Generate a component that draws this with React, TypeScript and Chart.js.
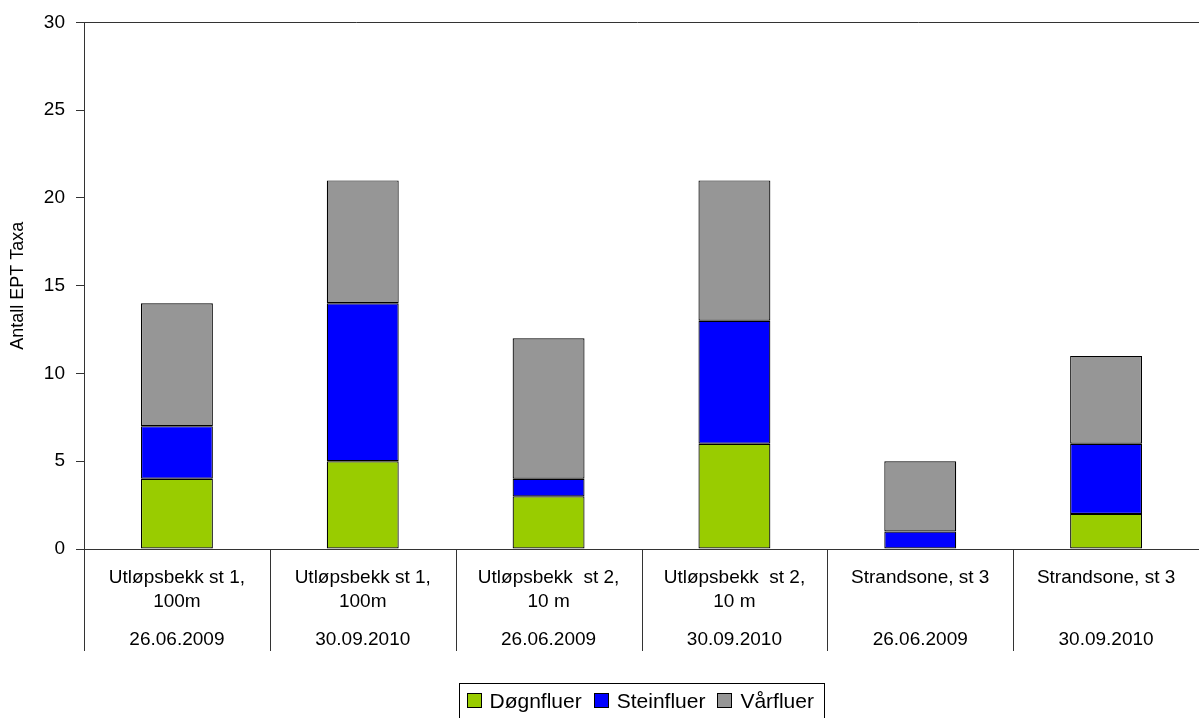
import React, { useEffect, useRef } from "react";
import { Chart, registerables } from "chart.js";
Chart.register(...registerables);

const siteLabels: string[][] = [
  ["Utløpsbekk st 1,", "100m"],
  ["Utløpsbekk st 1,", "100m"],
  ["Utløpsbekk  st 2,", "10 m"],
  ["Utløpsbekk  st 2,", "10 m"],
  ["Strandsone, st 3"],
  ["Strandsone, st 3"],
];
const dateLabels = ["26.06.2009", "30.09.2010", "26.06.2009", "30.09.2010", "26.06.2009", "30.09.2010"];
const dognfluer = [4, 5, 3, 6, 0, 2];
const steinfluer = [3, 9, 1, 7, 1, 4];
const varfluer = [7, 7, 8, 8, 4, 5];
const seriesNames = ["Døgnfluer", "Steinfluer", "Vårfluer"];
const seriesColors = ["#99CC00", "#0000FF", "#969696"];
const yMin = 0;
const yMax = 30;
const yStep = 5;
const yTitle = "Antall EPT Taxa";

const FONT = "'Liberation Sans', Arial, sans-serif";
const AXIS = "#333333";

const overlay = {
  id: "overlay",
  afterDraw(chart: any) {
    const ctx = chart.ctx as CanvasRenderingContext2D;
    const area = chart.chartArea;
    const xs = chart.scales.x;
    const n = chart.data.labels.length;
    ctx.save();
    // top border line
    ctx.strokeStyle = AXIS;
    ctx.lineWidth = 1;
    ctx.beginPath();
    ctx.moveTo(area.left - 8, Math.round(area.top) + 0.5);
    ctx.lineTo(area.right, Math.round(area.top) + 0.5);
    ctx.stroke();
    // category dividers
    const step = n > 1 ? xs.getPixelForValue(1) - xs.getPixelForValue(0) : area.width;
    ctx.beginPath();
    for (let i = 0; i <= n; i++) {
      const x = Math.round(xs.getPixelForValue(i) - step / 2) + 0.5;
      ctx.moveTo(x, area.bottom);
      ctx.lineTo(x, area.bottom + 102);
    }
    ctx.stroke();
    // labels
    ctx.fillStyle = "#000";
    ctx.font = `19px ${FONT}`;
    ctx.textAlign = "center";
    ctx.textBaseline = "middle";
    for (let i = 0; i < n; i++) {
      const cx = xs.getPixelForValue(i);
      siteLabels[i].forEach((line, j) => {
        ctx.fillText(line, cx, area.bottom + 29 + j * 24);
      });
      ctx.fillText(dateLabels[i], cx, area.bottom + 91);
    }
    // legend
    ctx.font = `21px ${FONT}`;
    const sq = 15;
    const gapSq = 8;
    const gapItem = 12;
    const ds = chart.data.datasets;
    const widths = ds.map((d: any) => ctx.measureText(d.label).width);
    const padL = 7;
    const padR = 11;
    let total = padL + padR;
    ds.forEach((_: any, i: number) => {
      total += sq + gapSq + widths[i] + (i < ds.length - 1 ? gapItem : 0);
    });
    const boxW = Math.round(total);
    const cxLeg = (area.left + area.right) / 2;
    const boxL = Math.round(cxLeg - boxW / 2) + 0.5;
    const boxT = 683.5;
    ctx.strokeStyle = "#000";
    ctx.strokeRect(boxL, boxT, boxW, 60);
    let x = boxL + padL;
    const cy = 701;
    ctx.textAlign = "left";
    ds.forEach((d: any, i: number) => {
      const sx = Math.round(x);
      ctx.fillStyle = d.backgroundColor;
      ctx.fillRect(sx, cy - 8, sq, sq);
      ctx.strokeStyle = "#000";
      ctx.strokeRect(sx + 0.5, cy - 8 + 0.5, sq - 1, sq - 1);
      x += sq + gapSq;
      ctx.fillStyle = "#000";
      ctx.fillText(d.label, x, cy + 1);
      x += widths[i] + gapItem;
    });
    ctx.restore();
  },
};

export default function App() {
  const ref = useRef<HTMLCanvasElement>(null);
  useEffect(() => {
    document.body.style.margin = "0";
    const canvas = ref.current!;
    const values = [dognfluer, steinfluer, varfluer];
    const chart = new Chart(canvas, {
      type: "bar",
      data: {
        labels: siteLabels.map((s, i) => s.join(" ") + " " + dateLabels[i]),
        datasets: seriesNames.map((name, i) => ({
          label: name,
          data: values[i],
          backgroundColor: seriesColors[i],
          borderColor: "#000",
          borderWidth: 1.2,
          borderSkipped: false,
          barPercentage: 0.387,
          categoryPercentage: 1,
        })),
      },
      options: {
        responsive: false,
        animation: false,
        devicePixelRatio: 1,
        layout: { padding: { top: 22, right: 0, left: 0, bottom: 0 } },
        plugins: { legend: { display: false }, tooltip: { enabled: false } },
        scales: {
          x: {
            stacked: true,
            grid: { display: false },
            ticks: { display: false },
            border: { display: true, color: AXIS, width: 1 },
            afterFit: (s: any) => {
              s.height = 169;
            },
          },
          y: {
            stacked: true,
            min: yMin,
            max: yMax,
            ticks: {
              stepSize: yStep,
              color: "#000",
              font: { family: FONT, size: 19 },
              padding: 11,
            },
            grid: { display: true, drawOnChartArea: false, drawTicks: true, tickLength: 8, color: AXIS },
            border: { display: true, color: AXIS, width: 1 },
            title: {
              display: true,
              text: yTitle,
              color: "#000",
              font: { family: FONT, size: 18 },
              padding: { top: 7, bottom: 0 },
            },
            afterFit: (s: any) => {
              s.width = 84;
            },
          },
        },
      },
      plugins: [overlay],
    });
    return () => chart.destroy();
  }, []);
  return <canvas ref={ref} width={1199} height={718} style={{ display: "block" }} />;
}
